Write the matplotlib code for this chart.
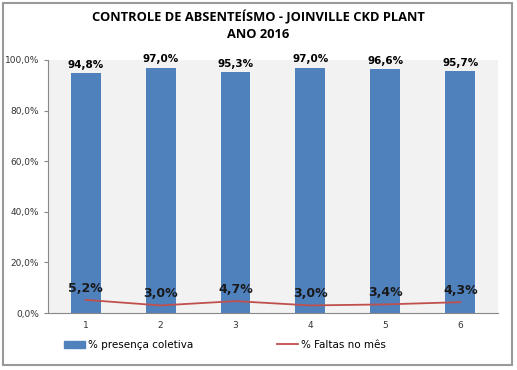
import matplotlib
matplotlib.use('Agg')
import matplotlib.pyplot as plt
from matplotlib.patches import Rectangle, Patch
from matplotlib.lines import Line2D

meses = ['1', '2', '3', '4', '5', '6']
presenca = [94.8, 97.0, 95.3, 97.0, 96.6, 95.7]
faltas = [5.2, 3.0, 4.7, 3.0, 3.4, 4.3]

azul = '#4f81bd'
vermelho = '#c0504d'

fig = plt.figure(figsize=(5.17, 3.70), dpi=100)
ax = fig.add_axes([0.093, 0.154, 0.870, 0.684])
ax.set_facecolor('#f2f2f2')

x = range(len(meses))
ax.bar(x, presenca, width=0.4, color=azul, zorder=2)
ax.plot(x, faltas, color=vermelho, lw=1.3, zorder=3)

for i, v in enumerate(presenca):
    ax.text(i, v + 1.2, f'{v:.1f}%'.replace('.', ','), ha='center', va='bottom',
            fontsize=7.5, fontweight='bold', family='DejaVu Sans')
for i, v in enumerate(faltas):
    ax.text(i, v + 2.0, f'{v:.1f}%'.replace('.', ','), ha='center', va='bottom',
            fontsize=9, fontweight='bold', family='DejaVu Sans', color='#1a1a1a')

ax.set_xlim(-0.5, 5.5)
ax.set_ylim(0, 100)
ax.set_yticks([0, 20, 40, 60, 80, 100])
ax.set_yticklabels([f'{t:.1f}%'.replace('.', ',') for t in [0, 20, 40, 60, 80, 100]],
                   fontsize=6.5, color='#333333')
ax.set_xticks(list(x))
ax.set_xticklabels(meses, fontsize=6.5, color='#333333')
ax.tick_params(axis='x', length=0, pad=6)
ax.tick_params(axis='y', length=3, color='#888888')
for s in ['top', 'right']:
    ax.spines[s].set_visible(False)
ax.spines['left'].set_color('#888888')
ax.spines['bottom'].set_color('#888888')

fig.text(0.5, 0.952, 'CONTROLE DE ABSENTEÍSMO - JOINVILLE CKD PLANT', ha='center', va='center',
         fontsize=9.3, fontweight='bold', family='Open Sans')
fig.text(0.5, 0.908, 'ANO 2016', ha='center', va='center',
         fontsize=9.3, fontweight='bold', family='Open Sans')

handles = [Patch(color=azul), Line2D([0], [0], color=vermelho, lw=1.3)]
fig.legend(handles, ['% presença coletiva', '% Faltas no mês'], loc='center',
           bbox_to_anchor=(0.435, 0.068), ncol=2, frameon=False, fontsize=7.5,
           columnspacing=8, handlelength=2, handletextpad=0.3)

fig.patches.append(Rectangle((0.006, 0.013), 0.985, 0.978, transform=fig.transFigure,
                             fill=False, edgecolor='#999999', lw=1.5))

fig.savefig('out.png', dpi=100)
